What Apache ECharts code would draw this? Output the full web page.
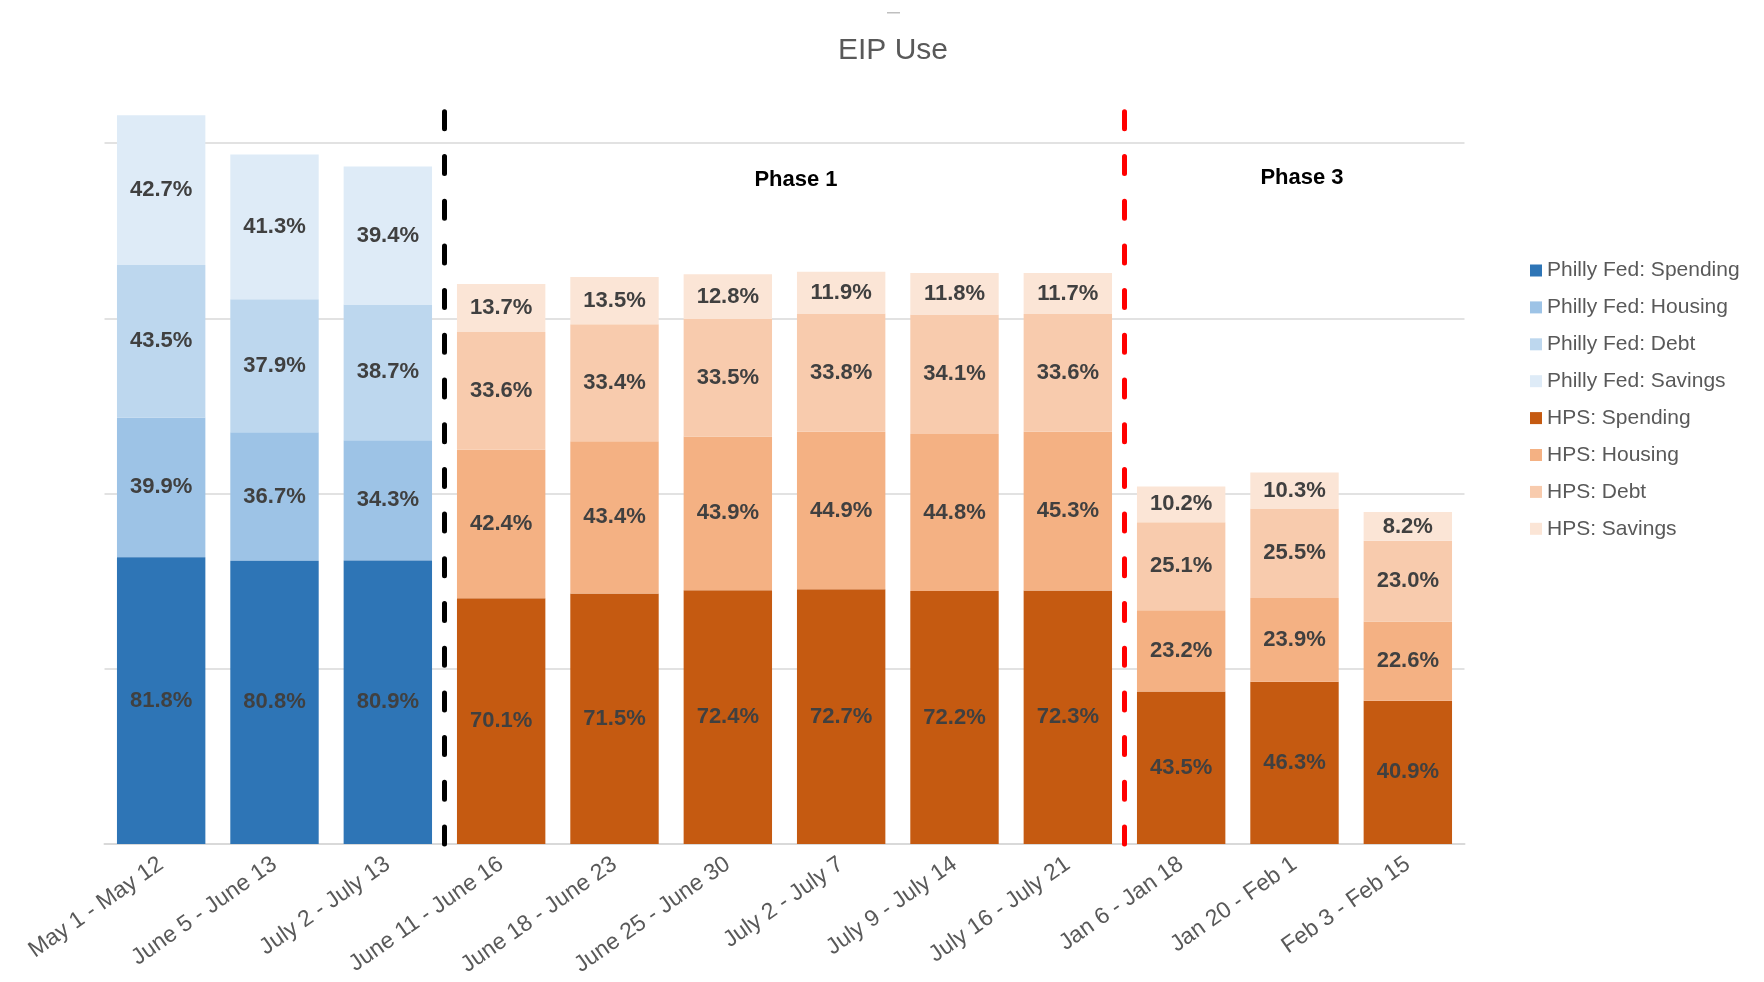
<!DOCTYPE html>
<html>
<head>
<meta charset="utf-8">
<script src="https://cdn.jsdelivr.net/npm/echarts@6/dist/echarts.min.js"></script>
<style>
html,body{margin:0;padding:0;background:#fff;}
#chart{width:1764px;height:982px;}
</style>
</head>
<body>
<div id="chart"></div>
<script>
const categories = ['May 1 - May 12','June 5 - June 13','July 2 - July 13','June 11 - June 16','June 18 - June 23','June 25 - June 30','July 2 - July 7','July 9 - July 14','July 16 - July 21','Jan 6 - Jan 18','Jan 20 - Feb 1','Feb 3 - Feb 15'];

const phillySpending = [81.8, 80.8, 80.9];
const phillyHousing  = [39.9, 36.7, 34.3];
const phillyDebt     = [43.5, 37.9, 38.7];
const phillySavings  = [42.7, 41.3, 39.4];

const hpsSpending = [70.1, 71.5, 72.4, 72.7, 72.2, 72.3, 43.5, 46.3, 40.9];
const hpsHousing  = [42.4, 43.4, 43.9, 44.9, 44.8, 45.3, 23.2, 23.9, 22.6];
const hpsDebt     = [33.6, 33.4, 33.5, 33.8, 34.1, 33.6, 25.1, 25.5, 23.0];
const hpsSavings  = [13.7, 13.5, 12.8, 11.9, 11.8, 11.7, 10.2, 10.3, 8.2];

const gridValues = [50, 100, 150, 200];
const phaseDividers = [2.5, 8.5];

const nPhilly = phillySpending.length;
const nHps = hpsSpending.length;
const padPhilly = a => a.concat(new Array(nHps).fill(null));
const padHps = a => new Array(nPhilly).fill(null).concat(a);

const seriesDefs = [
  ['Philly Fed: Spending', padPhilly(phillySpending), '#2E75B6'],
  ['Philly Fed: Housing',  padPhilly(phillyHousing),  '#9DC3E6'],
  ['Philly Fed: Debt',     padPhilly(phillyDebt),     '#BDD7EE'],
  ['Philly Fed: Savings',  padPhilly(phillySavings),  '#DEEBF7'],
  ['HPS: Spending', padHps(hpsSpending), '#C55A11'],
  ['HPS: Housing',  padHps(hpsHousing),  '#F4B183'],
  ['HPS: Debt',     padHps(hpsDebt),     '#F8CBAD'],
  ['HPS: Savings',  padHps(hpsSavings),  '#FBE5D6']
];

const FONT = '"Liberation Sans", Arial, sans-serif';

const series = seriesDefs.map(([name, data, color], idx) => {
  const s = {
    name: name,
    type: 'bar',
    stack: 'total',
    data: data,
    barCategoryGap: '22%',
    itemStyle: { color: color, borderWidth: 0 },
    label: {
      show: true,
      position: 'inside',
      color: '#404040',
      fontFamily: FONT,
      fontWeight: 'bold',
      fontSize: 22,
      formatter: p => (p.value == null ? '' : p.value.toFixed(1) + '%')
    },
    emphasis: { disabled: true }
  };
  if (idx === 0) {
    s.markLine = {
      silent: true,
      symbol: ['none', 'none'],
      label: { show: false },
      lineStyle: { color: '#d9d9d9', width: 1.5, type: 'solid' },
      data: gridValues.map(v => ({ yAxis: v })),
      z: 0
    };
    s.z = 3;
  }
  return s;
});

series.push({
  name: 'dividers',
  type: 'line',
  xAxisIndex: 1,
  data: [],
  silent: true,
  markLine: {
    silent: true,
    symbol: ['none', 'none'],
    label: { show: false },
    data: [
      { xAxis: phaseDividers[0], lineStyle: { color: '#000000', width: 5, type: [17, 27.7], cap: 'round' } },
      { xAxis: phaseDividers[1], lineStyle: { color: '#FF0000', width: 5, type: [17, 27.7], cap: 'round' } }
    ]
  },
  z: 10
});

const chart = echarts.init(document.getElementById('chart'), null, { renderer: 'canvas' });
chart.setOption({
  animation: false,
  backgroundColor: '#ffffff',
  legend: {
    data: seriesDefs.map(d => d[0]),
    orient: 'vertical',
    left: 1525,
    top: 255,
    itemWidth: 12,
    itemHeight: 12,
    itemGap: 15.9,
    icon: 'rect',
    textStyle: { fontFamily: FONT, fontSize: 21, color: '#595959', lineHeight: 21 }
  },
  grid: { left: 104.5, right: 299.5, top: 108, bottom: 138, containLabel: false, outerBoundsMode: 'none' },
  xAxis: [
    {
      type: 'category',
      data: categories,
      axisLine: { show: true, lineStyle: { color: '#d9d9d9', width: 2 } },
      axisTick: { show: false },
      axisLabel: {
        rotate: 35,
        interval: 0,
        margin: 18,
        fontFamily: FONT,
        fontSize: 23,
        color: '#595959'
      }
    },
    {
      type: 'value',
      min: -0.5,
      max: 11.5,
      show: false
    }
  ],
  yAxis: {
    type: 'value',
    min: 0,
    max: 210,
    show: false,
    splitLine: { show: false }
  },
  graphic: [
    { type: 'rect', left: 887, top: 12, shape: { width: 13, height: 1.5 }, style: { fill: '#bfbfbf' } },
    { type: 'text', x: 893, y: 51, style: { text: 'EIP Use', font: '30px "Liberation Sans", Arial, sans-serif', fill: '#595959', align: 'center', verticalAlign: 'middle' } },
    { type: 'text', x: 796, y: 180, style: { text: 'Phase 1', font: 'bold 22px "Liberation Sans", Arial, sans-serif', fill: '#000000', align: 'center', verticalAlign: 'middle' } },
    { type: 'text', x: 1302, y: 178, style: { text: 'Phase 3', font: 'bold 22px "Liberation Sans", Arial, sans-serif', fill: '#000000', align: 'center', verticalAlign: 'middle' } }
  ],
  series: series
});
</script>
</body>
</html>
